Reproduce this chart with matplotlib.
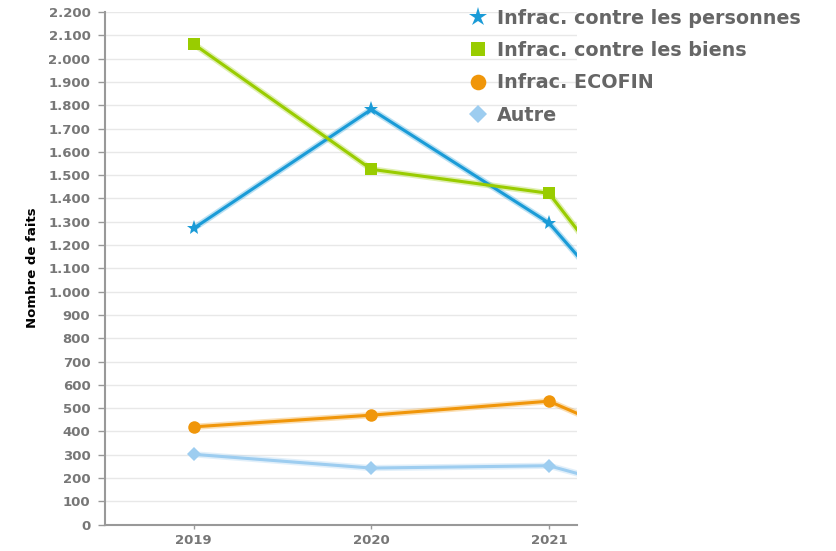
import matplotlib
matplotlib.use('Agg')
import matplotlib.pyplot as plt
from matplotlib.lines import Line2D
from matplotlib.ticker import FuncFormatter

# Data
years = [2019, 2020, 2021, 2022]
personnes = [1272, 1782, 1295, 420]
biens = [2062, 1525, 1422, 440]
ecofin = [420, 470, 530, 200]
autre = [302, 243, 253, 45]

series_names = ['Infrac. contre les personnes', 'Infrac. contre les biens',
                'Infrac. ECOFIN', 'Autre']
series_values = [personnes, biens, ecofin, autre]
colors = ['#1a9bd7', '#99cc00', '#f0960a', '#9dcdf0']
markers = ['*', 's', 'o', 'D']
msizes = [11, 8.5, 9, 7]

fig = plt.figure(figsize=(8.36, 5.51), dpi=100)
fig.patch.set_facecolor('white')
ax = fig.add_axes([105 / 836, 26.3 / 551, 472 / 836, 512.7 / 551])

for vals, c, m, ms in zip(series_values, colors, markers, msizes):
    ax.plot(years, vals, color=c, lw=4.5, alpha=0.3, solid_capstyle='round', zorder=2)
    ax.plot(years, vals, color=c, lw=2.2, marker=m, markersize=ms,
            markeredgewidth=0, zorder=3)

ax.set_xlim(2018.5, 2021.158)
ax.set_ylim(0, 2200)
ax.set_xticks([2019, 2020, 2021])
ax.set_yticks(range(0, 2201, 100))
ax.yaxis.set_major_formatter(FuncFormatter(lambda v, p: f'{int(v):,}'.replace(',', '.')))

ax.grid(axis='y', color='#e8e8e8', lw=1)
ax.set_axisbelow(True)
for s in ['top', 'right']:
    ax.spines[s].set_visible(False)
for s in ['left', 'bottom']:
    ax.spines[s].set_color('#999999')
    ax.spines[s].set_linewidth(1.5)

ax.tick_params(axis='y', length=5, width=1, color='#999999', pad=5.5,
               labelsize=9.5, labelcolor='#777777')
ax.tick_params(axis='x', length=3, width=1, color='#999999', pad=4,
               labelsize=9.5, labelcolor='#777777')
for lbl in ax.get_xticklabels() + ax.get_yticklabels():
    lbl.set_fontweight('bold')

fig.text(32 / 836, 1 - 268 / 551, 'Nombre de faits', rotation=90,
         ha='center', va='center', fontsize=9.5, fontweight='bold', color='black')

handles = [Line2D([], [], color=c, marker=m, linestyle='none',
                  markersize=ms * 1.25, markeredgewidth=0)
           for c, m, ms in zip(colors, markers, msizes)]
leg = fig.legend(handles, series_names, loc='upper left',
                 bbox_to_anchor=(463 / 836, 1 - 1 / 551),
                 frameon=False, fontsize=13.8, handlelength=0.8,
                 handletextpad=0.55, labelspacing=0.7, borderaxespad=0)
for t in leg.get_texts():
    t.set_color('#666666')
    t.set_fontweight('bold')

fig.savefig('out.png', dpi=100, facecolor='white')
